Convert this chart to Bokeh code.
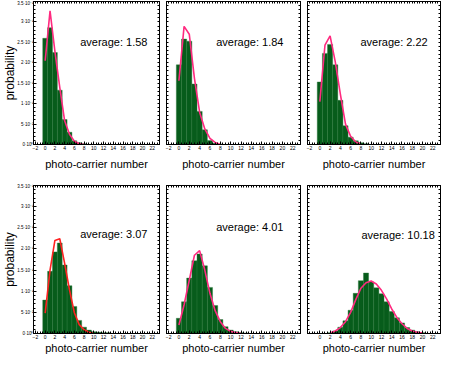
from bokeh.plotting import figure
from bokeh.layouts import row, column
from bokeh.models import LinearAxis, Range1d, FixedTicker, Label
from bokeh.embed import file_html
from bokeh.resources import INLINE

# ---------------- data ----------------
bars_x_1 = [0, 1, 2, 3, 4, 5, 6, 7, 8]
bars_y_1 = [0.260, 0.286, 0.225, 0.133, 0.061, 0.030, 0.009, 0.004, 0.002]
line_x_1 = [0, 1, 2, 3, 4, 5, 6, 7, 8]
line_y_1 = [0.205, 0.327, 0.228, 0.140, 0.058, 0.025, 0.008, 0.002, 0.0]

bars_x_2 = [0, 1, 2, 3, 4, 5, 6, 7, 8]
bars_y_2 = [0.195, 0.258, 0.253, 0.148, 0.081, 0.036, 0.010, 0.003, 0.001]
line_x_2 = [0, 1, 2, 3, 4, 5, 6, 7, 8]
line_y_2 = [0.156, 0.289, 0.270, 0.162, 0.079, 0.038, 0.015, 0.005, 0.0]

bars_x_3 = [0, 1, 2, 3, 4, 5, 6, 7, 8, 9]
bars_y_3 = [0.153, 0.223, 0.245, 0.195, 0.108, 0.046, 0.018, 0.009, 0.004, 0.002]
line_x_3 = [0, 1, 2, 3, 4, 5, 6, 7, 8]
line_y_3 = [0.105, 0.243, 0.266, 0.203, 0.123, 0.050, 0.020, 0.006, 0.001]

bars_x_4 = [0, 1, 2, 3, 4, 5, 6, 7, 8, 9, 10, 11, 12, 13]
bars_y_4 = [0.079, 0.147, 0.193, 0.214, 0.162, 0.113, 0.064, 0.031, 0.015, 0.008, 0.004, 0.003, 0.002, 0.002]
line_x_4 = [0, 1, 2, 3, 4, 5, 6, 7, 8, 9, 10]
line_y_4 = [0.048, 0.150, 0.220, 0.224, 0.166, 0.103, 0.049, 0.021, 0.009, 0.003, 0.0]

bars_x_5 = [0, 1, 2, 3, 4, 5, 6, 7, 8, 9, 10, 11, 12, 13]
bars_y_5 = [0.036, 0.075, 0.131, 0.172, 0.188, 0.160, 0.109, 0.066, 0.033, 0.016, 0.008, 0.004, 0.002, 0.001]
line_x_5 = [0, 1, 2, 3, 4, 5, 6, 7, 8, 9, 10, 11, 12]
line_y_5 = [0.020, 0.068, 0.126, 0.185, 0.196, 0.150, 0.095, 0.054, 0.028, 0.012, 0.005, 0.002, 0.0]

bars_x_6 = [2, 3, 4, 5, 6, 7, 8, 9, 10, 11, 12, 13, 14, 15, 16, 17, 18, 19, 20]
bars_y_6 = [0.002, 0.006, 0.015, 0.030, 0.055, 0.095, 0.125, 0.143, 0.122, 0.108, 0.094, 0.075,
            0.052, 0.037, 0.025, 0.014, 0.008, 0.004, 0.002]
line_x_6 = [2, 3, 4, 5, 6, 7, 8, 9, 10, 11, 12, 13, 14, 15, 16, 17, 18, 19, 20]
line_y_6 = [0.001, 0.006, 0.014, 0.028, 0.050, 0.080, 0.107, 0.120, 0.124, 0.117, 0.102, 0.082,
            0.058, 0.038, 0.023, 0.012, 0.006, 0.003, 0.001]

averages = ["average: 1.58", "average: 1.84", "average: 2.22",
            "average: 3.07", "average: 4.01", "average: 10.18"]

y_ticks = [0, 0.05, 0.10, 0.15, 0.20, 0.25, 0.30, 0.35]
y_tick_labels = ["0·10⁰", "5·10⁻²", "1·10⁻¹", "1.5·10⁻¹", "2·10⁻¹", "2.5·10⁻¹", "3·10⁻¹", "3.5·10⁻¹"]
x_ticks = [-2, 0, 2, 4, 6, 8, 10, 12, 14, 16, 18, 20, 22]
x_ticks_6 = [0, 2, 4, 6, 8, 10, 12, 14, 16, 18, 20, 22]

# ---------------- styling ----------------
FONT = "Liberation Sans"
BAR = "#075c1b"
PINK = "#ff2a7f"
RED = "#ff2222"

MINOR_X = [(-4 + 0.5 * i) for i in range(60)]
MINOR_Y = [round(0.01 * i, 2) for i in range(36)]


def tick_only_axis(minor):
    ax = LinearAxis(ticker=FixedTicker(ticks=[], minor_ticks=minor))
    ax.minor_tick_in = 2
    ax.minor_tick_out = 0
    ax.major_tick_in = 0
    ax.major_tick_out = 0
    ax.major_label_standoff = 0
    ax.axis_line_color = "black"
    return ax


def make_panel(bx, by, lx, ly, avg, line_color, xticks, width, height,
               mb_left, mb_right, mb_top, mb_bottom, label_standoff,
               show_ylabels, text_x, text_y):
    p = figure(width=width, height=height, output_backend="svg", toolbar_location=None,
               x_range=Range1d(-2.4, 23.5), y_range=Range1d(0, 0.35),
               min_border_left=mb_left, min_border_right=mb_right,
               min_border_top=mb_top, min_border_bottom=mb_bottom,
               x_axis_location=None, y_axis_location=None)
    p.xgrid.visible = False
    p.ygrid.visible = False
    p.outline_line_color = "black"
    p.outline_line_width = 1
    p.background_fill_color = "white"
    p.border_fill_color = "white"

    p.vbar(x=bx, top=by, width=1.0, bottom=0, fill_color=BAR, line_color="#2c7a3a", line_width=0.4)
    p.line(lx, ly, line_color=line_color, line_width=1.6)

    # bottom axis
    xb = LinearAxis(ticker=FixedTicker(ticks=xticks, minor_ticks=MINOR_X))
    xb.axis_label = "photo-carrier number"
    xb.axis_label_text_font = FONT
    xb.axis_label_text_font_size = "11px"
    xb.axis_label_text_font_style = "normal"
    xb.axis_label_text_color = "black"
    xb.axis_label_standoff = label_standoff
    xb.major_label_text_font = FONT
    xb.major_label_text_font_size = "5px"
    xb.major_label_text_color = "black"
    xb.major_label_standoff = 1
    xb.major_tick_in = 3
    xb.major_tick_out = 0
    xb.minor_tick_in = 2
    xb.minor_tick_out = 0
    p.add_layout(xb, "below")

    # left axis
    if show_ylabels:
        yl = LinearAxis(ticker=FixedTicker(ticks=y_ticks, minor_ticks=MINOR_Y))
        yl.major_tick_in = 3
        yl.major_tick_out = 0
        yl.minor_tick_in = 2
        yl.minor_tick_out = 0
        yl.major_label_overrides = {t: s for t, s in zip(y_ticks, y_tick_labels)}
        yl.major_label_text_font = FONT
        yl.major_label_text_font_size = "4.5px"
        yl.major_label_text_color = "black"
        yl.major_label_standoff = 0
        yl.axis_label = "probability"
        yl.axis_label_text_font = FONT
        yl.axis_label_text_font_size = "12px"
        yl.axis_label_text_font_style = "normal"
        yl.axis_label_text_color = "black"
        yl.axis_label_standoff = -3
    else:
        yl = tick_only_axis(MINOR_Y)
    p.add_layout(yl, "left")

    # right / top tick-only axes
    p.add_layout(tick_only_axis(MINOR_Y), "right")
    p.add_layout(tick_only_axis(MINOR_X), "above")

    p.add_layout(Label(x=text_x, y=text_y, text=avg, text_font=FONT, text_font_size="11px",
                       text_baseline="middle", text_align="left", text_color="black"))
    return p


p1 = make_panel(bars_x_1, bars_y_1, line_x_1, line_y_1, averages[0], PINK, x_ticks,
                162, 183, 24, 3, 1, 39, 5, True, 7.2, 0.252)
p2 = make_panel(bars_x_2, bars_y_2, line_x_2, line_y_2, averages[1], PINK, x_ticks,
                141, 183, 4, 3, 1, 39, 5, False, 7.2, 0.252)
p3 = make_panel(bars_x_3, bars_y_3, line_x_3, line_y_3, averages[2], PINK, x_ticks,
                139, 183, 4, 2, 1, 39, 5, False, 7.9, 0.252)
p4 = make_panel(bars_x_4, bars_y_4, line_x_4, line_y_4, averages[3], RED, x_ticks,
                162, 174, 24, 3, 2, 24, 0, True, 7.2, 0.235)
p5 = make_panel(bars_x_5, bars_y_5, line_x_5, line_y_5, averages[4], PINK, x_ticks,
                141, 174, 4, 3, 2, 24, 0, False, 7.2, 0.251)
p6 = make_panel(bars_x_6, bars_y_6, line_x_6, line_y_6, averages[5], PINK, x_ticks_6,
                139, 174, 4, 2, 2, 24, 0, False, 8.1, 0.232)

layout = column(row(p1, p2, p3), row(p4, p5, p6))

open("out.html", "w").write(file_html(layout, INLINE))
